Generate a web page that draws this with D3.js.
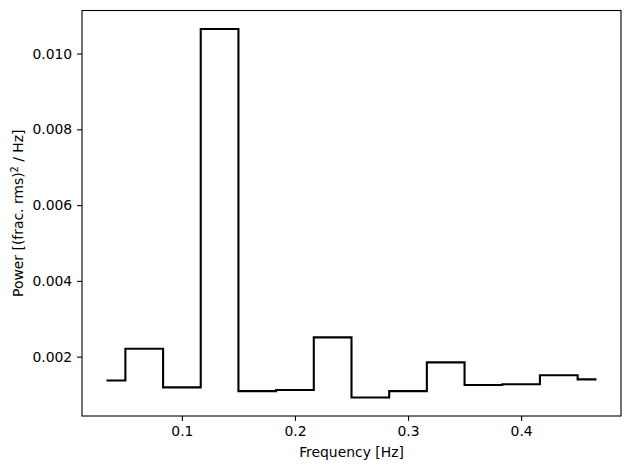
<!DOCTYPE html>
<html>
<head>
<meta charset="utf-8">
<title>Power spectrum</title>
<script src="https://cdn.jsdelivr.net/npm/d3@7"></script>
<style>
  body { margin: 0; background: #fff; }
  svg text { font-family: "DejaVu Sans", sans-serif; fill: #000; }
  .axis path, .axis line { stroke: #000; stroke-width: 1.1; }
</style>
</head>
<body>
<script>
// frequencies (Hz) and power values
var freq = [0.0333, 0.0667, 0.1000, 0.1333, 0.1667, 0.2000, 0.2333,
            0.2667, 0.3000, 0.3333, 0.3667, 0.4000, 0.4333, 0.4667];
var power = [0.00137, 0.00221, 0.00119, 0.01065, 0.00109, 0.00112, 0.00251,
             0.00092, 0.00109, 0.00185, 0.00125, 0.00127, 0.00151, 0.00140];
var xTicks = [0.1, 0.2, 0.3, 0.4];
var yTicks = [0.002, 0.004, 0.006, 0.008, 0.010];

var w = 630, h = 470;
// plot area (note: "top" is reserved on window, so use p* names)
var pLeft = 82, pRight = 621, pTop = 10.5, pBottom = 416;

var svg = d3.select("body").append("svg")
    .attr("width", w)
    .attr("height", h);

// matplotlib style 5% margins
var xPad = (d3.max(freq) - d3.min(freq)) * 0.05;
var yPad = (d3.max(power) - d3.min(power)) * 0.05;

var x = d3.scaleLinear()
    .domain([d3.min(freq) - xPad, d3.max(freq) + xPad])
    .range([pLeft, pRight]);

var y = d3.scaleLinear()
    .domain([d3.min(power) - yPad, d3.max(power) + yPad])
    .range([pBottom, pTop]);

var xAxis = d3.axisBottom(x)
    .tickValues(xTicks)
    .tickFormat(d3.format(".1f"))
    .tickSize(4.9)
    .tickPadding(4.9);

var yAxis = d3.axisLeft(y)
    .tickValues(yTicks)
    .tickFormat(d3.format(".3f"))
    .tickSize(4.9)
    .tickPadding(4.9);

svg.append("g")
    .attr("class", "axis")
    .attr("transform", "translate(0," + pBottom + ")")
    .call(xAxis)
    .call(function(g) { g.select(".domain").remove(); })
    .selectAll("text").attr("font-size", 13.9);

svg.append("g")
    .attr("class", "axis")
    .attr("transform", "translate(" + pLeft + ",0)")
    .call(yAxis)
    .call(function(g) { g.select(".domain").remove(); })
    .selectAll("text").attr("font-size", 13.9);

// step line (mid steps)
var line = d3.line()
    .x(function(d, i) { return x(freq[i]); })
    .y(function(d) { return y(d); })
    .curve(d3.curveStep);

svg.append("path")
    .datum(power)
    .attr("d", line)
    .attr("fill", "none")
    .attr("stroke", "#000")
    .attr("stroke-width", 2.1)
    .attr("stroke-linejoin", "miter");

// frame
svg.append("rect")
    .attr("x", pLeft)
    .attr("y", pTop)
    .attr("width", pRight - pLeft)
    .attr("height", pBottom - pTop)
    .attr("fill", "none")
    .attr("stroke", "#000")
    .attr("stroke-width", 1.1);

// axis labels
svg.append("text")
    .attr("x", (pLeft + pRight) / 2)
    .attr("y", 456.5)
    .attr("text-anchor", "middle")
    .attr("font-size", 13.9)
    .text("Frequency [Hz]");

var yl = svg.append("text")
    .attr("transform", "translate(23," + ((pTop + pBottom) / 2) + ") rotate(-90)")
    .attr("text-anchor", "middle")
    .attr("font-size", 13.9);
yl.append("tspan").text("Power [(frac. rms)");
yl.append("tspan").attr("dy", -5).attr("font-size", 9.7).text("2");
yl.append("tspan").attr("dy", 5).text(" / Hz]");
</script>
</body>
</html>
